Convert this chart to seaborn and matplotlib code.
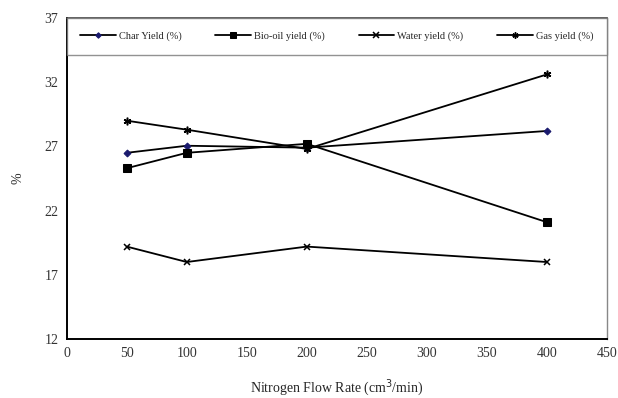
import matplotlib
matplotlib.use("Agg")
import matplotlib.pyplot as plt
import seaborn as sns
import pandas as pd

# values
flow_rate = [50, 100, 200, 400]
char_yield = [26.5, 27.05, 26.9, 28.2]
bio_oil_yield = [25.3, 26.5, 27.2, 21.1]
water_yield = [19.2, 18.0, 19.2, 18.0]
gas_yield = [29.0, 28.3, 26.8, 32.6]

series_names = ["Char Yield (%)", "Bio-oil yield (%)", "Water yield (%)", "Gas yield (%)"]
series_values = [char_yield, bio_oil_yield, water_yield, gas_yield]

x_ticks = [0, 50, 100, 150, 200, 250, 300, 350, 400, 450]
y_ticks = [12, 17, 22, 27, 32, 37]

sns.set_style("white")
plt.rcParams["font.family"] = ["Liberation Serif", "DejaVu Serif"]

df = pd.concat(
    [pd.DataFrame({"flow": flow_rate, "value": vals, "series": name})
     for name, vals in zip(series_names, series_values)],
    ignore_index=True,
)

fig = plt.figure(figsize=(6.18, 3.98), dpi=100)
ax = fig.add_axes([0.108, 0.148, 0.874, 0.807])

styles = {
    "Char Yield (%)": dict(marker="D", markersize=3.5, markerfacecolor="#1a1a6e",
                           markeredgecolor="#1a1a6e"),
    "Bio-oil yield (%)": dict(marker="s", markersize=5.5, markerfacecolor="black",
                              markeredgecolor="black"),
    "Water yield (%)": dict(marker="x", markersize=5, markeredgewidth=1.1,
                            markeredgecolor="black"),
    "Gas yield (%)": dict(marker=(6, 2, 0), markersize=5.5, markeredgewidth=1.1,
                          markeredgecolor="black"),
}

for name in series_names:
    sub = df[df["series"] == name]
    sns.lineplot(data=sub, x="flow", y="value", ax=ax, color="black",
                 linewidth=1.3, label=name, **styles[name])

ax.set_xlim(0, 450)
ax.set_ylim(12, 37)
ax.set_xticks(x_ticks)
ax.set_yticks(y_ticks)
ax.tick_params(axis="both", direction="out", length=3, width=1, colors="black",
               labelsize=10, pad=3)
ax.tick_params(axis="both", labelcolor="#333333")

for side in ["left", "bottom"]:
    ax.spines[side].set_color("black")
    ax.spines[side].set_linewidth(1.4)
ax.spines["top"].set_color("#444444")
ax.spines["top"].set_linewidth(1.2)
ax.spines["right"].set_color("#888888")
ax.spines["right"].set_linewidth(1.0)

ax.set_xlabel("Nitrogen Flow Rate (cm$^3$/min)", fontsize=10, labelpad=12)
ax.set_ylabel("%", fontsize=10, labelpad=14)

leg = ax.legend(loc="upper left", bbox_to_anchor=(0, 1.0, 1.0, 0), mode="expand",
                ncol=4, fontsize=7.5, frameon=True, fancybox=False, handlelength=3.4,
                handletextpad=0.3, borderpad=1.3, borderaxespad=0, markerscale=0.8)
leg.get_frame().set_edgecolor("#777777")
leg.get_frame().set_linewidth(1.0)

fig.savefig("out.png", dpi=100)
